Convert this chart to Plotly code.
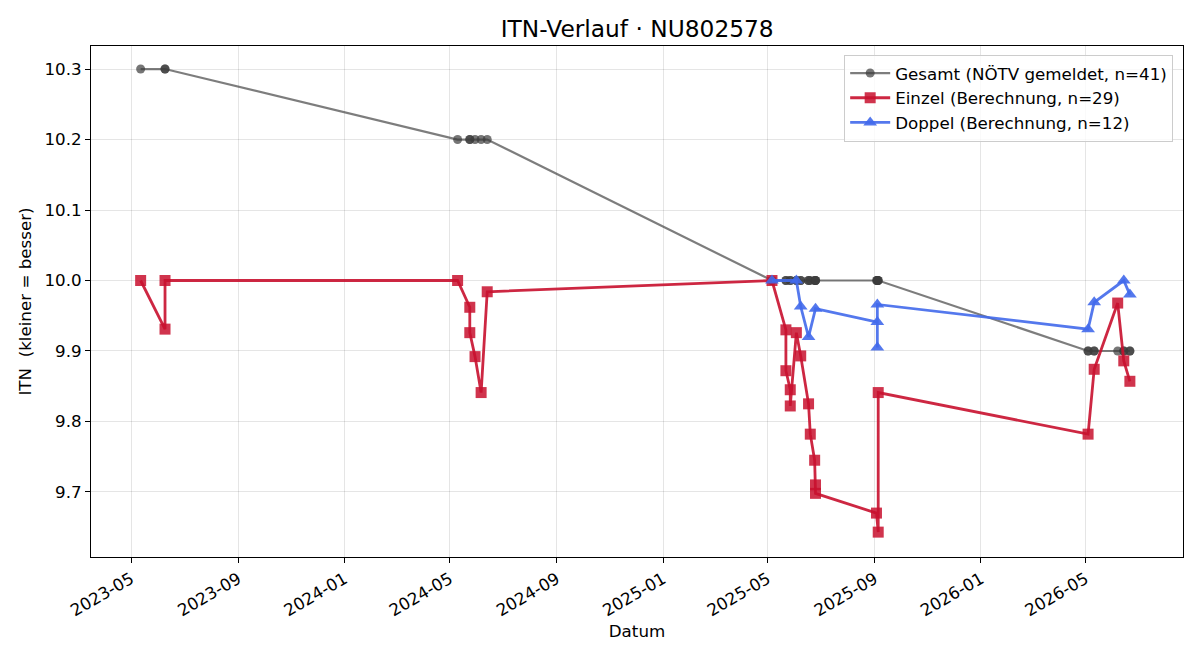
import plotly.graph_objects as go

# ---- data ----
gesamt_dates = [
    "2023-05-12", "2023-06-09", "2023-06-09",
    "2024-05-10", "2024-05-24", "2024-05-24", "2024-05-30", "2024-06-06", "2024-06-13",
    "2025-05-06", "2025-05-06", "2025-05-22", "2025-05-22", "2025-05-27", "2025-05-27",
    "2025-06-03", "2025-06-03", "2025-06-08", "2025-06-08", "2025-06-17", "2025-06-17",
    "2025-06-19", "2025-06-24", "2025-06-25", "2025-06-25", "2025-06-25",
    "2025-09-03", "2025-09-04", "2025-09-04", "2025-09-04", "2025-09-05", "2025-09-05",
    "2026-05-04", "2026-05-04", "2026-05-11", "2026-05-11", "2026-06-07",
    "2026-06-14", "2026-06-14", "2026-06-21", "2026-06-21",
]
gesamt_itn = (
    [10.3] * 3 + [10.2] * 6 + [10.0] * 23 + [9.9] * 9
)

einzel_dates = [
    "2023-05-12", "2023-06-09", "2023-06-09",
    "2024-05-10", "2024-05-24", "2024-05-24", "2024-05-30", "2024-06-06", "2024-06-13",
    "2025-05-06", "2025-05-22", "2025-05-22", "2025-05-27", "2025-05-27",
    "2025-06-03", "2025-06-08", "2025-06-17", "2025-06-19", "2025-06-24",
    "2025-06-25", "2025-06-25", "2025-09-03", "2025-09-05", "2025-09-05",
    "2026-05-04", "2026-05-11", "2026-06-07", "2026-06-14", "2026-06-21",
]
einzel_itn = [
    10.0, 9.931, 10.0,
    10.0, 9.962, 9.926, 9.892, 9.841, 9.984,
    10.0, 9.930, 9.872, 9.845, 9.822,
    9.926, 9.893, 9.825, 9.782, 9.745,
    9.710, 9.698, 9.670, 9.643, 9.841,
    9.782, 9.874, 9.968, 9.886, 9.857,
]

doppel_dates = [
    "2025-05-06", "2025-06-03", "2025-06-08", "2025-06-17", "2025-06-25",
    "2025-09-04", "2025-09-04", "2025-09-04",
    "2026-05-04", "2026-05-11", "2026-06-14", "2026-06-21",
]
doppel_itn = [
    10.0, 10.0, 9.963, 9.920, 9.960,
    9.941, 9.905, 9.966,
    9.931, 9.969, 10.0, 9.980,
]

y_ticks = [9.7, 9.8, 9.9, 10.0, 10.1, 10.2, 10.3]

FONT = "DejaVu Sans"
FS = 16.7

fig = go.Figure()
fig.add_trace(go.Scatter(
    x=gesamt_dates, y=gesamt_itn, mode="lines+markers",
    name="Gesamt (NÖTV gemeldet, n=41)",
    line=dict(color="rgba(70,70,70,0.7)", width=2.2),
    marker=dict(symbol="circle", size=9, color="rgba(60,60,60,0.7)",
                line=dict(width=0)),
))
fig.add_trace(go.Scatter(
    x=einzel_dates, y=einzel_itn, mode="lines+markers",
    name="Einzel (Berechnung, n=29)",
    line=dict(color="rgba(200,16,46,0.9)", width=2.8),
    marker=dict(symbol="square", size=11, color="rgba(200,16,46,0.85)",
                line=dict(width=0)),
))
fig.add_trace(go.Scatter(
    x=doppel_dates, y=doppel_itn, mode="lines+markers",
    name="Doppel (Berechnung, n=12)",
    line=dict(color="rgba(65,105,235,0.9)", width=2.8),
    marker=dict(symbol="triangle-up", size=12, color="rgba(65,105,235,0.9)",
                line=dict(width=0)),
))

fig.update_layout(
    width=1200, height=660,
    margin=dict(l=91, r=17, t=46, b=103),
    paper_bgcolor="white", plot_bgcolor="white",
    font=dict(family=FONT, size=FS, color="black"),
    title=dict(text="ITN-Verlauf · NU802578", x=0.531, xanchor="center",
               y=0.957, yanchor="middle", font=dict(size=23.3)),
    showlegend=True,
    legend=dict(x=0.991, xanchor="right", y=0.983, yanchor="top",
                bgcolor="rgba(255,255,255,0.8)", bordercolor="#cccccc",
                borderwidth=1, font=dict(size=FS), tracegroupgap=0,
                itemwidth=40),
)
fig.update_xaxes(
    type="date", range=["2023-03-16", "2026-08-21"],
    tick0="2023-05-01", dtick="M4", tickformat="%Y-%m", tickangle=-30,
    showgrid=True, gridcolor="rgba(0,0,0,0.1)", gridwidth=1,
    showline=True, linecolor="black", linewidth=1, mirror=True,
    ticks="outside", ticklen=5, tickcolor="black",
    zeroline=False, automargin=False,
    title=dict(text="Datum", font=dict(size=FS), standoff=6),
    tickfont=dict(size=FS),
)
fig.update_yaxes(
    range=[9.6077, 10.3327], tickvals=y_ticks, tickformat=".1f",
    showgrid=True, gridcolor="rgba(0,0,0,0.1)", gridwidth=1,
    showline=True, linecolor="black", linewidth=1, mirror=True,
    ticks="outside", ticklen=5, tickcolor="black",
    zeroline=False, automargin=False,
    title=dict(text="ITN  (kleiner = besser)", font=dict(size=FS), standoff=8),
    tickfont=dict(size=FS),
)

fig.write_html("out.html")
